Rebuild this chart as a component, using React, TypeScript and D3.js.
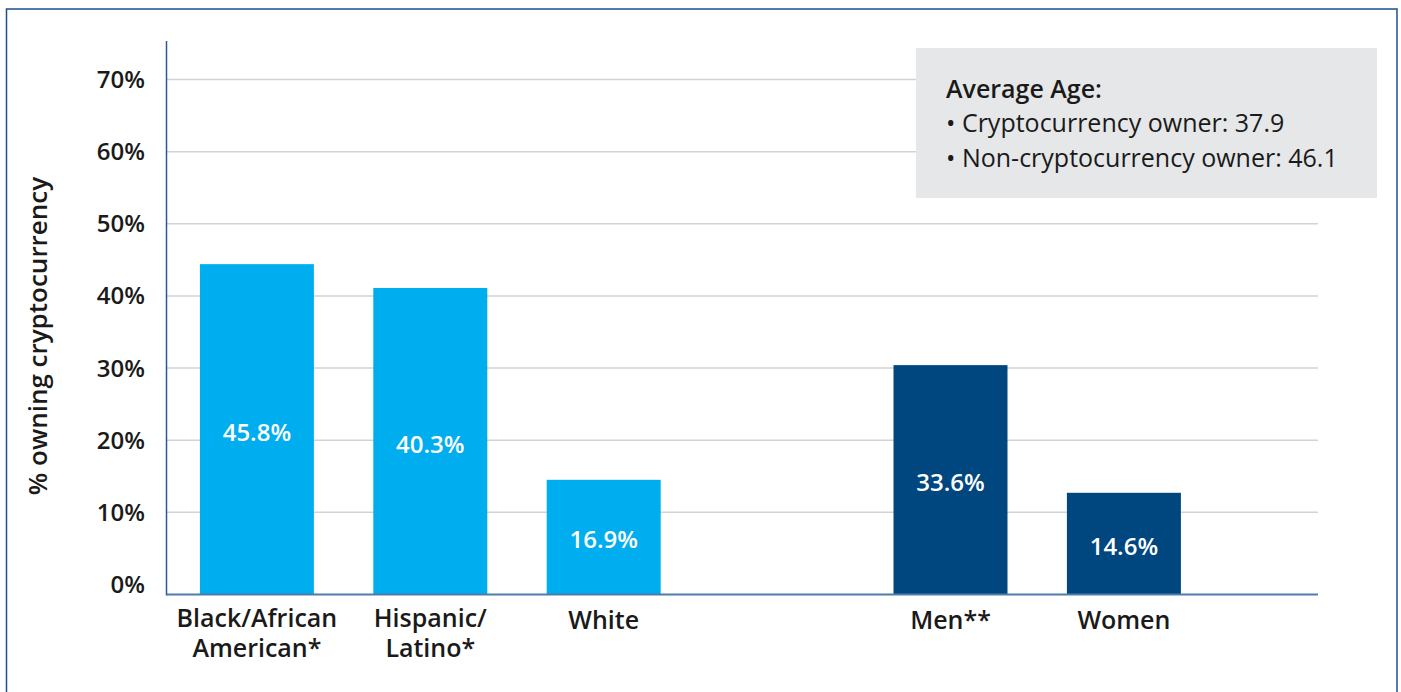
import React from "react";
import * as d3 from "d3";

const categories = ["Black/African American*", "Hispanic/Latino*", "White", "gap", "Men**", "Women"];
const barCategories = ["Black/African American*", "Hispanic/Latino*", "White", "Men**", "Women"];
const barValues = [44.4, 41.1, 14.5, 30.4, 12.7];
const valueLabels = ["45.8%", "40.3%", "16.9%", "33.6%", "14.6%"];
const categoryLines = [["Black/African", "American*"], ["Hispanic/", "Latino*"], ["White"], ["Men**"], ["Women"]];
const groups = ["race", "race", "race", "gender", "gender"];
const yTicks = [0, 10, 20, 30, 40, 50, 60, 70];
const boxTitle = "Average Age:";
const boxLines = ["• Cryptocurrency owner: 37.9", "• Non-cryptocurrency owner: 46.1"];
const yTitle = "% owning cryptocurrency";

const W = 1401;
const H = 692;
const FONT = "'Open Sans', 'Noto Sans', sans-serif";
const TEXT = "#1a1a1a";
const colors: Record<string, string> = { race: "#00aeef", gender: "#00467f" };

export default function App() {
  const x = d3
    .scaleBand<string>()
    .domain(categories)
    .range([170.2, 1210.6])
    .paddingInner(0.3426)
    .paddingOuter(0.1713);
  const y = d3.scaleLinear().domain([0, 70]).range([584.4, 79.5]);
  const axisY = 594.5;
  const axisX = 166.5;
  const plotRight = 1318;

  return (
    <svg
      width={W}
      height={H}
      style={{ position: "absolute", left: 0, top: 0, background: "#fff" }}
      fontFamily={FONT}
    >
      <rect x={0} y={0} width={W} height={H} fill="#fff" />
      <rect x={6.5} y={9} width={1390.5} height={720} fill="none" stroke="#1d4f8f" strokeWidth={1.5} />

      {yTicks.filter((t) => t > 0).map((t) => (
        <line key={t} x1={axisX} x2={plotRight} y1={y(t)} y2={y(t)} stroke="#d3d3d3" strokeWidth={1.5} />
      ))}

      {yTicks.map((t) => (
        <text
          key={"l" + t}
          x={145}
          y={y(t) + 8.6}
          textAnchor="end"
          fontSize={24}
          fontWeight={600}
          fill={TEXT}
        >
          {t + "%"}
        </text>
      ))}

      <text
        transform={`translate(47, 336) rotate(-90)`}
        textAnchor="middle"
        fontSize={26}
        fontWeight={600}
        fill={TEXT}
      >
        {yTitle}
      </text>

      {barCategories.map((c, i) => {
        const x0 = x(c) as number;
        const top = y(barValues[i]);
        const mid = (top + axisY) / 2;
        return (
          <g key={c}>
            <rect x={x0} y={top} width={x.bandwidth()} height={axisY - top} fill={colors[groups[i]]} />
            <text
              x={x0 + x.bandwidth() / 2}
              y={mid + 2.7 + 8.6}
              textAnchor="middle"
              fontSize={24}
              fontWeight={600}
              fill="#fff"
            >
              {valueLabels[i]}
            </text>
            {categoryLines[i].map((ln, j) => (
              <text
                key={j}
                x={x0 + x.bandwidth() / 2}
                y={(categoryLines[i].length > 1 ? 627 : 629) + j * 30}
                textAnchor="middle"
                fontSize={25}
                fontWeight={600}
                fill={TEXT}
              >
                {ln}
              </text>
            ))}
          </g>
        );
      })}

      <line x1={axisX} x2={axisX} y1={41} y2={axisY + 1} stroke="#2a5a96" strokeWidth={1.5} />
      <line x1={axisX} x2={plotRight} y1={axisY} y2={axisY} stroke="#4f7daa" strokeWidth={2} />

      <rect x={916} y={48} width={461} height={150} fill="#e6e7e8" />
      <text x={946} y={98} fontSize={25} fontWeight={600} fill={TEXT}>
        {boxTitle}
      </text>
      {boxLines.map((ln, i) => (
        <text key={ln} x={946} y={132 + i * 35} fontSize={25} fontWeight={400} fill={TEXT} xmlSpace="preserve">
          {ln}
        </text>
      ))}
    </svg>
  );
}
